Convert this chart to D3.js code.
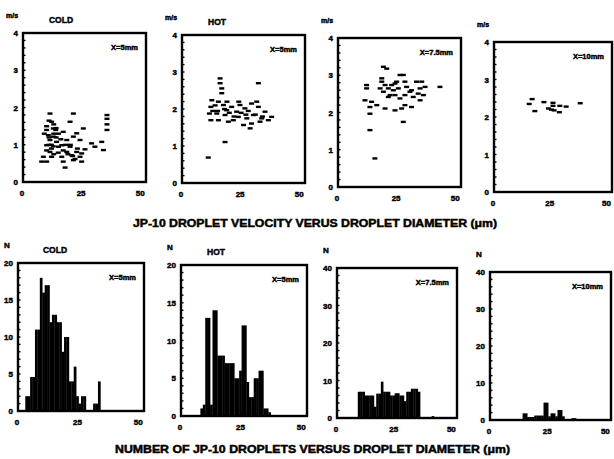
<!DOCTYPE html>
<html>
<head>
<meta charset="utf-8">
<script src="https://cdn.jsdelivr.net/npm/d3@7"></script>
<style>
  body { margin: 0; background: #fff; }
  svg text { font-family: "Liberation Sans", Arial, sans-serif; font-weight: bold; fill: #000; stroke: #000; stroke-width: 0.45px; }
</style>
</head>
<body>
<div id="chart"></div>
<script>
// droplet diameter (um) vs velocity (m/s), one pair of arrays per station
var cold5Dia = [11.4,21.3,35.5,35.5,35.5,35.5,12.1,19.9,12.8,10,13.8,25.5,22.7,10.7,12.8,17,21.3,11.4,14.2,18.5,24.1,29,33.3,10,12.8,16.4,19.9,11.4,14.9,18.5,22.7,26.2,34,30.4,8.6,12.1,16.4,20.6,24.1,24.8,7.9,17,21.3,24.8,17.8,10,9,10,11,12,13,14,12,13,15,10,11,14,16,15,17,18,19,20,21,22,23,13,11];
var cold5Vel = [1.84,1.84,1.8,1.7,1.55,1.4,1.62,1.62,1.44,1.4,1.4,1.44,1.31,1.26,1.22,1.35,1.22,1.13,1.08,1.13,1.13,1.04,1.08,0.99,0.96,0.99,0.95,0.81,0.79,0.81,0.81,0.88,0.86,0.95,0.68,0.68,0.68,0.72,0.68,0.77,0.55,0.55,0.59,0.55,0.39,0.55,1.3,1.5,1.2,1.0,1.3,1.2,0.9,0.75,0.95,0.85,1.0,1.45,1.15,1.3,0.85,1.0,0.75,1.0,0.7,0.62,0.9,1.55,1.65];

var hot5Dia = [16.1,16.1,16.8,16.8,32.3,12.6,12.2,11.6,12.2,15.4,17.5,18.9,21,23.1,24.5,26.6,29.4,31.6,32.3,35.1,37.9,36.5,33.7,30.2,27.4,29.4,26,28.8,21.7,18.2,14.7,15.4,19.6,23.8,33,18.2,11.1,14,15,18,20,22,25,27,13,19,24,28,31,34];
var hot5Vel = [2.83,2.7,2.56,2.43,2.7,2.24,2.06,1.88,1.7,2.2,2.11,1.97,2.06,1.93,2.11,2.02,2.15,2.2,2.06,1.93,1.79,1.7,1.75,1.84,1.75,1.61,1.57,1.48,1.7,1.84,1.88,1.7,1.66,1.79,1.66,1.11,0.69,2.1,1.95,2.0,1.9,1.8,1.9,1.85,1.95,2.2,2.2,1.95,1.85,1.8];

var hot75Dia = [19.2,20.6,26.2,27.6,12.1,12.1,18.5,19.9,21.3,22.7,24.1,25.5,28.3,29,31.1,33.2,35.4,34.7,36.8,33.9,36.1,31.8,28.3,26.2,24.1,22,19.2,17.8,43.1,11.4,14.2,16.4,13.5,13.5,19.9,24.1,26.9,31.1,28.3,13.5,27.6,15.6,21.3,23.4,30.4,24.8,18.5,34.7];
var hot75Vel = [3.23,3.18,3.01,3.01,2.74,2.65,2.83,2.74,2.65,2.74,2.78,2.65,2.83,2.69,2.6,2.83,2.83,2.65,2.69,2.51,2.47,2.42,2.47,2.38,2.47,2.47,2.56,2.65,2.69,2.33,2.29,2.2,2.15,1.97,2.11,2.06,2.11,2.15,2.2,1.53,1.75,0.77,2.42,2.6,2.56,2.83,2.92,2.33];

var hot10Dia = [16.8,15.5,18,22,26,24,25.3,26.5,29,28.8,31.8,38,26];
var hot10Vel = [2.48,2.35,2.16,2.4,2.38,2.23,2.2,2.18,2.3,2.13,2.28,2.37,2.3];

// histograms: bin start (um, 1 um wide) and droplet count
var cold5Bin = [3,4,5,6,7,8,9,10,11,12,13,14,15,16,17,18,19,20,21,22,23,24,25,26,27,31,32,33];
var cold5N   = [2,2,4.6,4.6,11,11,18,16,17,17,12,13,13,12,12,8,10,10,4,4,6,2,1,2,2,1,1,4];

var hot5Bin = [8,9,10,11,12,13,14,15,16,17,18,19,20,21,22,23,24,25,26,27,28,29,30,31,32,33,34,35,36];
var hot5N   = [1,1.5,13,13,1.5,14,14,8,8,8,7,7,7,7,5,5,6,12,12,4.5,2.5,2.5,5,5,6,6,1,1,0.5];

var hot75Bin = [9,10,11,12,13,14,15,16,17,18,19,20,21,22,23,24,25,26,27,28,29,30,31,32,33,34,35,41];
var hot75N   = [7,7,7,6,6,6,6,3,6.5,6.5,9.7,7,7,7,6,6,6.6,6.6,6,6,4.5,7,7,7.8,7.8,7.8,7,0.5];

var hot10Bin = [14,15,16,17,18,19,20,21,22,23,24,25,26,27,28,29,30,31,35,36];
var hot10N   = [1.8,1.8,0.8,0.8,0.8,1.2,1.2,1.2,1.2,4.7,4.7,1,1.8,1.8,1,2.7,2.7,1,0.5,0.5];

// tick labels
var diaTicks = [0, 25, 50];
var velTicks = [0, 1, 2, 3, 4];
var n20Ticks = [0, 5, 10, 15, 20];
var n40Ticks = [0, 10, 20, 30, 40];

var svg = d3.select("#chart")
  .append("svg")
    .attr("width", 614)
    .attr("height", 459);

// panel layout (frame corners in pixels)
var panels = [
  {kind: "vel", dia: cold5Dia, val: cold5Vel, box: [23, 33, 146, 182], title: "COLD", tx: 61, note: "X=5mm"},
  {kind: "vel", dia: hot5Dia, val: hot5Vel, box: [182, 35, 305, 183], title: "HOT", tx: 217, note: "X=5mm"},
  {kind: "vel", dia: hot75Dia, val: hot75Vel, box: [338, 38, 461, 187], note: "X=7.5mm"},
  {kind: "vel", dia: hot10Dia, val: hot10Vel, box: [494, 42, 612, 192], note: "X=10mm"},
  {kind: "n20", dia: cold5Bin, val: cold5N, box: [18, 263, 144, 411], title: "COLD", tx: 55, note: "X=5mm"},
  {kind: "n20", dia: hot5Bin, val: hot5N, box: [181, 265, 307, 416], title: "HOT", tx: 216, note: "X=5mm"},
  {kind: "n40", dia: hot75Bin, val: hot75N, box: [337, 268, 457, 418], note: "X=7.5mm"},
  {kind: "n40", dia: hot10Bin, val: hot10N, box: [490, 272, 611, 420], note: "X=10mm"}
];

function drawPanel(p) {
  var x0 = p.box[0], y0 = p.box[1], x1 = p.box[2], y1 = p.box[3];
  var yMax = p.kind == "vel" ? 4 : (p.kind == "n20" ? 20 : 40);
  var yTicks = p.kind == "vel" ? velTicks : (p.kind == "n20" ? n20Ticks : n40Ticks);
  var minorStep = p.kind == "vel" ? 0.2 : (p.kind == "n20" ? 1 : 2);

  var x = d3.scaleLinear().domain([0, 52]).range([x0, x1]);
  var y = d3.scaleLinear().domain([0, yMax]).range([y1, y0]);
  var g = svg.append("g");

  // marks
  var pts = p.dia.map(function(d, i) { return {d: d, v: p.val[i]}; });
  if (p.kind == "vel") {
    g.selectAll("rect.pt")
      .data(pts)
      .enter().append("rect")
        .attr("x", function(d) { return x(d.d) - 2.5; })
        .attr("y", function(d) { return y(d.v) - 1.1; })
        .attr("width", 5)
        .attr("height", 2.4)
        .attr("fill", "#000");
  } else {
    g.selectAll("rect.bar")
      .data(pts)
      .enter().append("rect")
        .attr("x", function(d) { return x(d.d); })
        .attr("y", function(d) { return y(d.v); })
        .attr("width", function(d) { return x(d.d + 1) - x(d.d) + 0.3; })
        .attr("height", function(d) { return y(0) - y(d.v); })
        .attr("fill", "#000");
  }

  // minor ticks along the left edge
  g.selectAll("line.minor")
    .data(d3.range(0, yMax + 0.001, minorStep))
    .enter().append("line")
      .attr("x1", x0).attr("x2", x0 + 2.5)
      .attr("y1", function(d) { return y(d); })
      .attr("y2", function(d) { return y(d); })
      .attr("stroke", "#000").attr("stroke-width", 1.4);

  // frame
  g.append("rect")
    .attr("x", x0).attr("y", y0)
    .attr("width", x1 - x0).attr("height", y1 - y0)
    .attr("fill", "none")
    .attr("stroke", "#000")
    .attr("stroke-width", 2.4);

  // tick labels
  g.selectAll("text.yt")
    .data(yTicks)
    .enter().append("text")
      .attr("x", x0 - 5)
      .attr("y", function(d) { return y(d) + 3; })
      .attr("text-anchor", "end")
      .style("font-size", "8px")
      .text(function(d) { return d; });

  g.selectAll("text.xt")
    .data(diaTicks)
    .enter().append("text")
      .attr("x", function(d) { return x(d) - 1; })
      .attr("y", y1 + 14)
      .attr("text-anchor", "middle")
      .style("font-size", "8px")
      .text(function(d) { return d; });

  // unit label, title, station note
  g.append("text")
    .attr("x", x0 - 11)
    .attr("y", y0 - 15)
    .attr("text-anchor", "middle")
    .style("font-size", p.kind == "vel" ? "7px" : "8px")
    .text(p.kind == "vel" ? "m/s" : "N");

  if (p.title) {
    g.append("text")
      .attr("x", p.tx)
      .attr("y", y0 - 10)
      .attr("text-anchor", "middle")
      .style("font-size", "8.5px")
      .text(p.title);
  }

  g.append("text")
    .attr("x", x1 - 8)
    .attr("y", y0 + 17)
    .attr("text-anchor", "end")
    .style("font-size", "7.5px")
    .text(p.note);
}

panels.forEach(drawPanel);

// captions
svg.append("text")
  .attr("x", 133).attr("y", 227)
  .attr("textLength", 364)
  .attr("lengthAdjust", "spacingAndGlyphs")
  .style("font-size", "10px")
  .text("JP-10 DROPLET VELOCITY VERUS DROPLET DIAMETER (\u03bcm)");

svg.append("text")
  .attr("x", 115).attr("y", 453)
  .attr("textLength", 395)
  .attr("lengthAdjust", "spacingAndGlyphs")
  .style("font-size", "10px")
  .text("NUMBER OF JP-10 DROPLETS VERSUS DROPLET DIAMETER (\u03bcm)");
</script>
</body>
</html>
